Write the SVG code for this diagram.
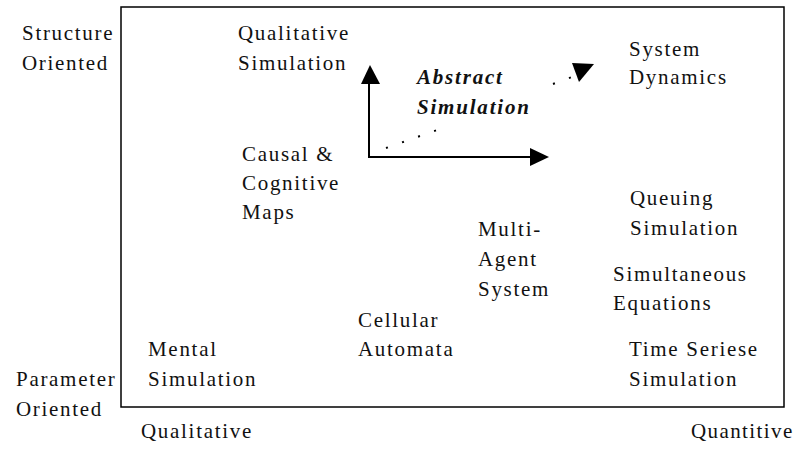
<svg xmlns="http://www.w3.org/2000/svg" width="796" height="449" viewBox="0 0 796 449">
<style>
text{font-family:'Liberation Serif','Times New Roman',serif;font-size:21px;fill:#111;letter-spacing:1.7px}
.bi{font-weight:bold;font-style:italic;letter-spacing:1.8px}
.ax{stroke:#000;stroke-width:2;fill:none}
.dot{stroke:#000;stroke-width:2;fill:none;stroke-dasharray:2 15}
</style>
<rect width="796" height="449" fill="#fff"/>
<rect x="121" y="7" width="663" height="400" fill="none" stroke="#000" stroke-width="1.5"/>
<g id="axis-labels">
<text x="22" y="40">Structure</text>
<text x="22" y="70">Oriented</text>
<text x="16" y="386">Parameter</text>
<text x="16" y="416">Oriented</text>
<text x="141" y="438">Qualitative</text>
<text x="691" y="438" style="letter-spacing:1.4px">Quantitive</text>
</g>
<g id="connectors">
<polyline class="ax" points="369,82 369,157 532,157"/>
<polygon points="370,65 361,84 380,84" fill="#000"/>
<polygon points="549,157 530,148 530,166" fill="#000"/>
<line class="dot" x1="386" y1="148" x2="440" y2="129"/>
<line class="dot" x1="553" y1="84" x2="572" y2="77"/>
<polygon points="594,64 572,63 579,82" fill="#000"/>
</g>
<g id="qualitative-simulation"><text x="238" y="40">Qualitative</text><text x="238" y="70">Simulation</text></g>
<g id="abstract-simulation"><text class="bi" x="417" y="84">Abstract</text><text class="bi" x="417" y="114">Simulation</text></g>
<g id="system-dynamics"><text x="629" y="56">System</text><text x="629" y="84">Dynamics</text></g>
<g id="causal-cognitive-maps"><text x="242" y="161">Causal &amp;</text><text x="242" y="190">Cognitive</text><text x="242" y="219">Maps</text></g>
<g id="queuing-simulation"><text x="630" y="205">Queuing</text><text x="630" y="235">Simulation</text></g>
<g id="multi-agent-system"><text x="478" y="236">Multi-</text><text x="478" y="266">Agent</text><text x="478" y="296">System</text></g>
<g id="simultaneous-equations"><text x="613" y="281">Simultaneous</text><text x="613" y="310">Equations</text></g>
<g id="cellular-automata"><text x="358" y="327">Cellular</text><text x="358" y="356">Automata</text></g>
<g id="mental-simulation"><text x="148" y="356">Mental</text><text x="148" y="386">Simulation</text></g>
<g id="time-series-simulation"><text x="629" y="356">Time Seriese</text><text x="629" y="386">Simulation</text></g>
</svg>
